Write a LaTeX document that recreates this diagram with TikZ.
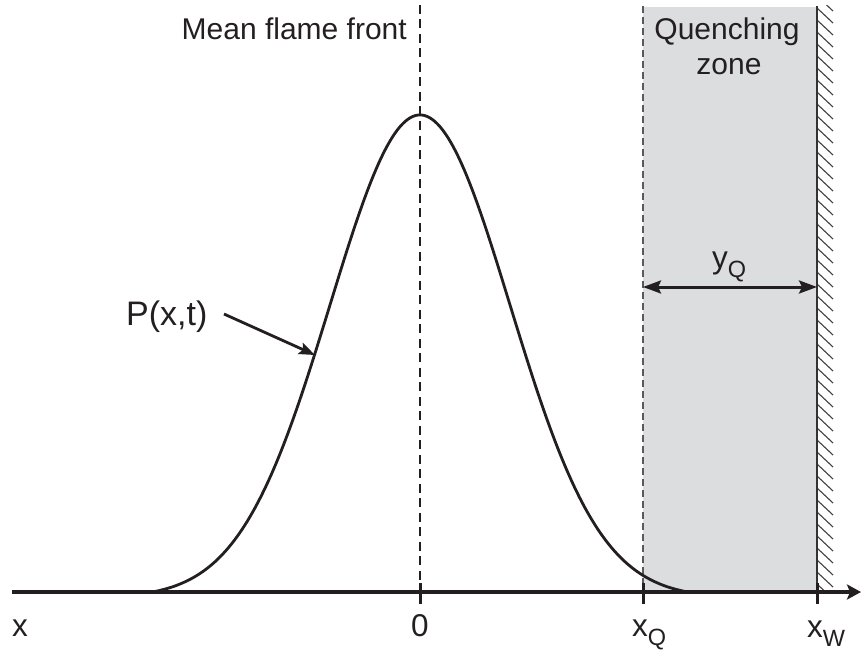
\documentclass[tikz,border=0pt]{standalone}
\usepackage{fontspec}
\setmainfont{Liberation Sans}
\usetikzlibrary{arrows.meta}
\definecolor{zonegray}{HTML}{DCDDDF}
\definecolor{ink}{HTML}{231F20}
\newcommand\subq[1]{\raisebox{-0.3em}{\fontsize{23.5}{24}\selectfont #1}}
\tikzset{
  lbl/.style={font=\fontsize{30}{35}\selectfont, text=ink, inner sep=0pt},
  axlbl/.style={font=\fontsize{31.5}{36}\selectfont, text=ink, inner sep=0pt},
  plbl/.style={font=\fontsize{34}{38}\selectfont, text=ink, inner sep=0pt},
  axisline/.style={ink, line width=3.3pt, -{Stealth[length=14pt,width=15pt,inset=3pt]}},
  tickline/.style={ink, line width=3pt},
  curveline/.style={ink, line width=2.8pt},
  dashline/.style={ink, line width=2.6pt, dash pattern=on 9pt off 5.5pt},
  dashgray/.style={line width=2pt, black!65, dash pattern=on 7pt off 4pt},
  ptr/.style={ink, line width=2.8pt, -{Stealth[length=16pt,width=12pt,inset=3pt]}},
  dimarrow/.style={ink, line width=3pt, {Stealth[length=18pt,width=13pt,inset=3pt]}-{Stealth[length=18pt,width=13pt,inset=3pt]}},
  hatchline/.style={line width=1.1pt, black!75},
  wallline/.style={line width=2pt, black!80},
}
\begin{document}
\begin{tikzpicture}[x=1pt,y=-1pt]
\useasboundingbox (0,0) rectangle (861,650);
% coordinates
\coordinate (o) at (420,592);
\coordinate (xq) at (643,592);
\coordinate (xw) at (817,592);
\coordinate (otop) at (420,5);
\coordinate (xqtop) at (643,6);
\coordinate (xwtop) at (817,6);
\coordinate (axL) at (12,592);
\coordinate (axR) at (861,592);
% quenching zone
\fill[zonegray] (643,7) rectangle (xw);
% hatching
\begin{scope}
\clip (817,6) rectangle (845,592);
\foreach \y in {-4,8,...,600} {
  \draw[hatchline] (817,\y) -- ++(16,15);
}
\end{scope}
\draw[wallline] (xwtop) -- (xw);
% dashed lines
\draw[dashgray] (xqtop) -- (xq);
\draw[dashline] (otop) -- (o);
% curve
\draw[curveline] plot[domain=100:740, samples=240] (\x, {592-max(0,477*(exp(-((\x-420)/90)^2/2)-0.012)/0.988)});
% axis
\draw[axisline] (axL) -- (axR);
% ticks
\draw[tickline] (420,583) -- (420,604);
\draw[tickline] (643,583) -- (643,604);
\draw[tickline] (817,583) -- (817,604);
% labels
\node[axlbl, anchor=base] (lx) at (20,636) {x};
\node[axlbl, anchor=base] (l0) at (420,636) {0};
\node[axlbl, anchor=base west] (lxq) at (632,636) {x\subq{Q}};
\node[axlbl, anchor=base west] (lxw) at (807,637) {x\subq{W}};
\node[lbl, anchor=base east] (lmean) at (407,40) {Mean flame front};
\node[lbl, anchor=base] (lq1) at (727,40) {Quenching};
\node[lbl, anchor=base] (lq2) at (729,75) {zone};
\node[axlbl, anchor=base west] (lyq) at (712,268) {y\subq{Q}};
\node[plbl, anchor=base west] (lp) at (126,325) {P(x,t)};
% arrows
\coordinate (ptail) at (224,314);
\coordinate (ptip) at (315,355);
\draw[ptr] (ptail) -- (ptip);
\draw[dimarrow] (643,287) -- (817,287);
\end{tikzpicture}
\end{document}
